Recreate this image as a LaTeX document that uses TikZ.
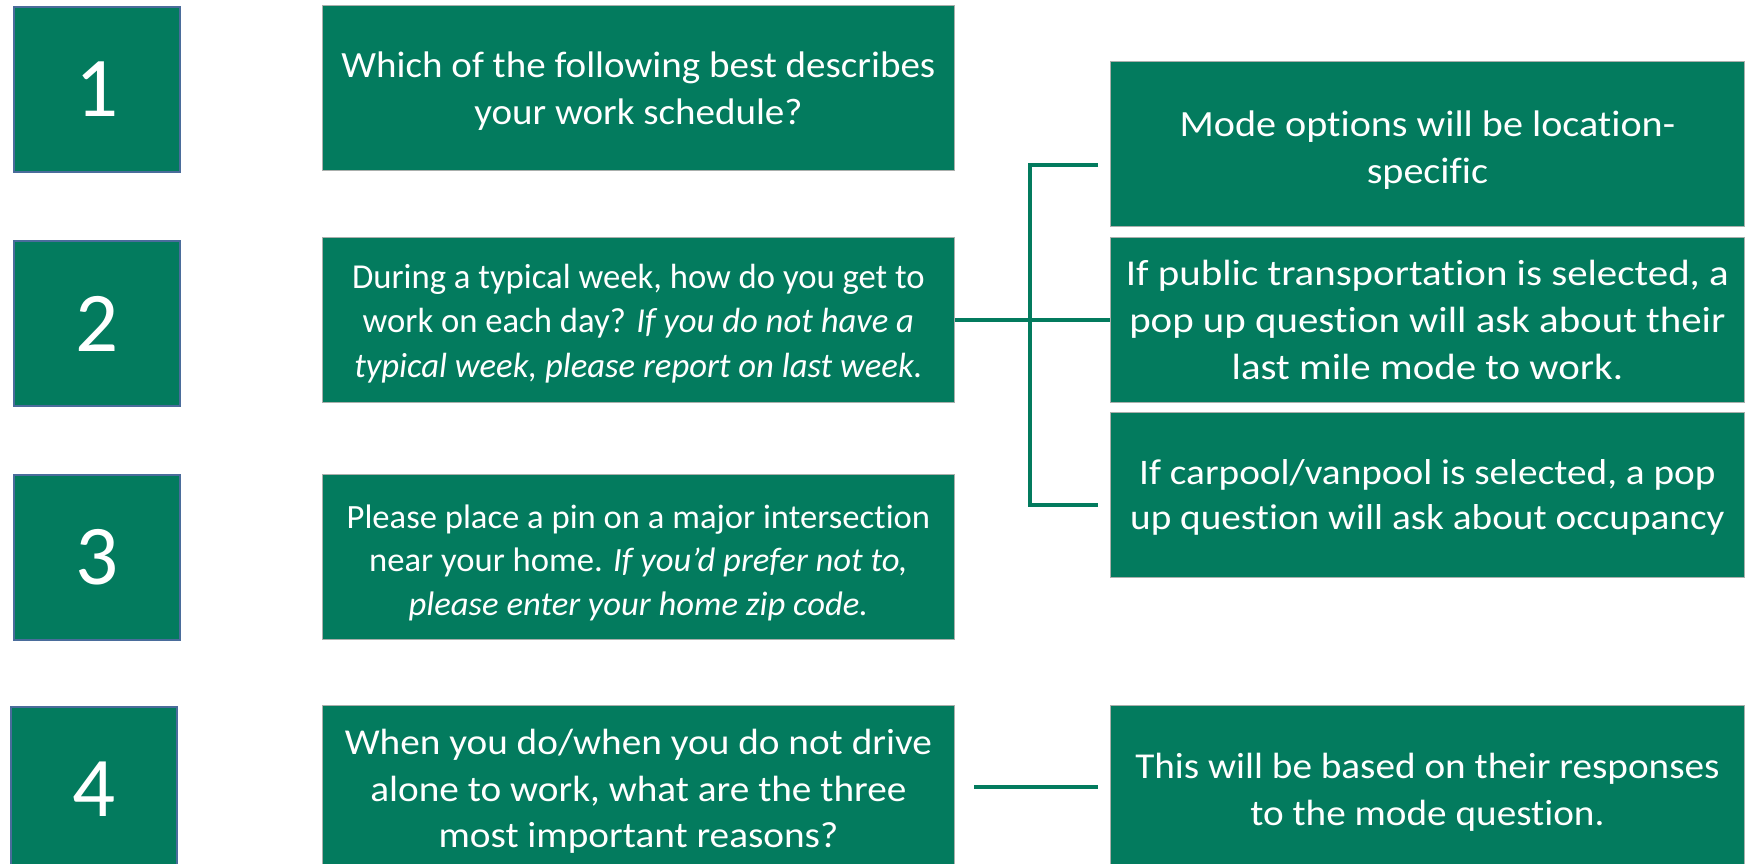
\documentclass[tikz,border=0pt]{standalone}
\usepackage{fontspec}
\setmainfont{Carlito}[Ligatures=NoCommon]
\definecolor{grn}{RGB}{3,123,94}
\definecolor{bord}{RGB}{74,108,155}
\definecolor{lbord}{RGB}{170,175,172}
\newcommand\txtfont[3]{\fontsize{#1}{#2}\selectfont\addfontfeature{FakeStretch=#3}}
\newcommand\dn[1]{\rule{0pt}{\dimexpr0.72em+#1\relax}}
\begin{document}
\begin{tikzpicture}[x=1pt,y=-1pt,
  numbox/.style={fill=grn, draw=bord, line width=2pt, minimum width=166pt, minimum height=165pt, text=white, font=\fontsize{85}{100}\selectfont, inner sep=0pt, anchor=north west},
  qbox/.style={fill=grn, draw=lbord, line width=0.8pt, minimum width=632pt, minimum height=165pt, text=white, align=center, inner sep=0pt, anchor=north west},
  rbox/.style={fill=grn, draw=lbord, line width=0.8pt, minimum width=634pt, minimum height=165pt, text=white, align=center, inner sep=0pt, anchor=north west},
  conn/.style={draw=grn, line width=4.5pt}]
\useasboundingbox (0,0) rectangle (1750,864);
% number boxes
\node[numbox] (n1) at (13,6) {1};
\node[numbox] (n2) at (13,240) {2};
\node[numbox] (n3) at (13,474) {3};
\node[numbox] (n4) at (10,706) {4};
% question boxes
\node[qbox, font=\txtfont{37}{47}{1.055}] (q1) at (322,5) {\dn{6pt}Which of the following best describes\\your work schedule?};
\node[qbox, font=\txtfont{35}{44.6}{0.99}] (q2) at (322,237) {\dn{6.5pt}During a typical week, how do you get to\\work on each day? \textit{If you do not have a}\\\textit{typical week, please report on last week.}};
\node[qbox, font=\txtfont{34}{43.5}{1.018}] (q3) at (322,474) {\dn{11pt}Please place a pin on a major intersection\\near your home. \textit{If you’d prefer not to,}\\\textit{please enter your home zip code.}};
\node[qbox, font=\txtfont{36.5}{46.3}{1.075}] (q4) at (322,705) {\dn{6pt}When you do/when you do not drive\\alone to work, what are the three\\most important reasons?};
% right boxes
\node[rbox, font=\txtfont{37}{47}{1.084}] (r1) at (1110,61) {\dn{11pt}Mode options will be location-\\specific};
\node[rbox, font=\txtfont{36.5}{47}{1.12}] (r2) at (1110,237) {If public transportation is selected, a\\pop up question will ask about their\\last mile mode to work.};
\node[rbox, font=\txtfont{36}{45.5}{1.09}] (r3) at (1110,412) {\dn{4pt}If carpool/vanpool is selected, a pop\\up question will ask about occupancy};
\node[rbox, font=\txtfont{36.5}{46.5}{1.074}] (r4) at (1110,705) {\dn{8pt}This will be based on their responses\\to the mode question.};
% connectors
\coordinate (bt) at (1030,165);
\coordinate (bb) at (1030,505);
\coordinate (bte) at (1098,165);
\coordinate (bbe) at (1098,505);
\coordinate (l4s) at (974,787);
\coordinate (l4e) at (1098,787);
\draw[conn] (q2.east) -- (r2.west);
\draw[conn] (bte) -- (bt) -- (bb) -- (bbe);
\draw[conn] (l4s) -- (l4e);
\end{tikzpicture}
\end{document}
